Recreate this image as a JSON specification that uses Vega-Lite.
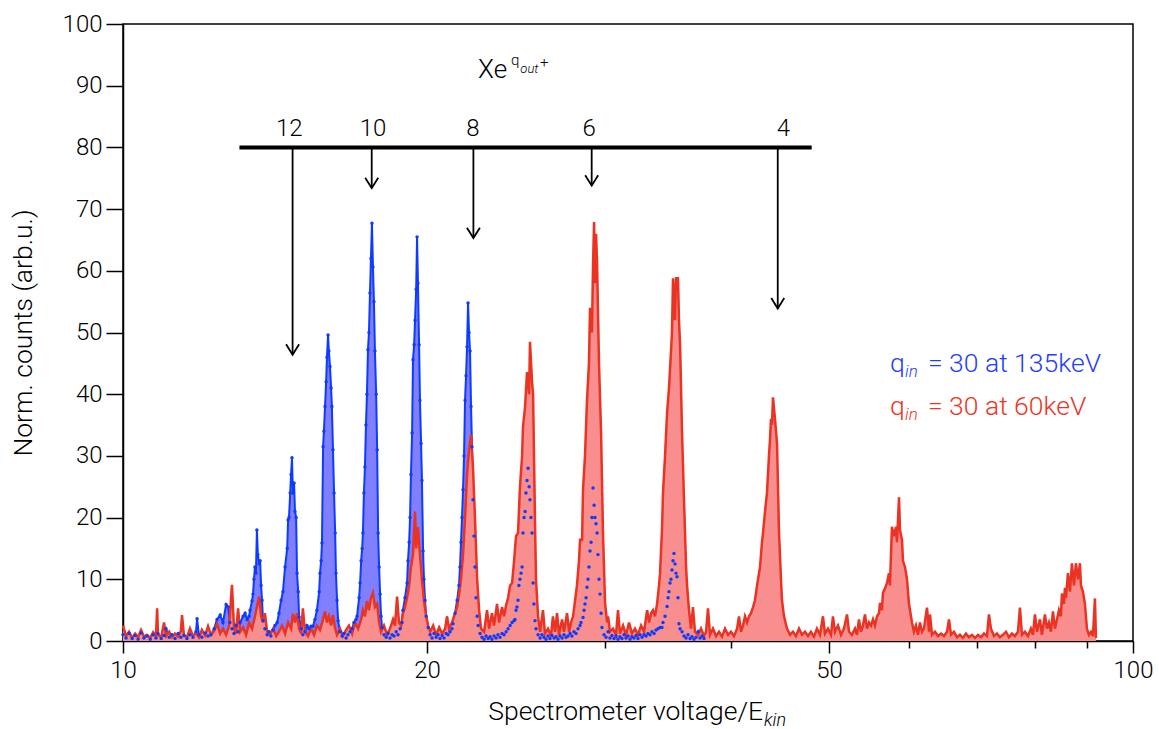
{
"$schema":"https://vega.github.io/schema/vega-lite/v6.json",
"width":1010,"height":617,
"autosize":{"type":"none"},
"padding":{"left":123,"top":24,"right":26,"bottom":88},
"background":"white",
"config":{"view":{"stroke":"black","strokeWidth":1.5},"axis":{"grid":false,"domainColor":"black","domainWidth":1.5,"tickColor":"black","tickWidth":1.5,"labelColor":"black","titleColor":"black","labelFont":"Roboto","labelFontWeight":300,"titleFont":"Roboto","titleFontWeight":300}},
"datasets":{
"red":[{"x":10.00,"y":2.5},{"x":10.07,"y":0.8},{"x":10.14,"y":1.5},{"x":10.21,"y":0.5},{"x":10.28,"y":1.2},{"x":10.35,"y":0.6},{"x":10.42,"y":1.8},{"x":10.49,"y":0.7},{"x":10.56,"y":1.0},{"x":10.64,"y":0.5},{"x":10.71,"y":1.4},{"x":10.78,"y":0.8},{"x":10.81,"y":5.3},{"x":10.83,"y":1.0},{"x":10.91,"y":0.6},{"x":10.98,"y":3.0},{"x":11.03,"y":0.8},{"x":11.11,"y":1.5},{"x":11.18,"y":0.6},{"x":11.26,"y":1.2},{"x":11.34,"y":0.7},{"x":11.41,"y":1.6},{"x":11.44,"y":4.2},{"x":11.49,"y":1.0},{"x":11.57,"y":0.6},{"x":11.65,"y":2.0},{"x":11.73,"y":0.8},{"x":11.81,"y":1.3},{"x":11.89,"y":0.6},{"x":11.97,"y":1.8},{"x":12.06,"y":0.9},{"x":12.14,"y":2.4},{"x":12.22,"y":1.0},{"x":12.31,"y":1.6},{"x":12.39,"y":2.8},{"x":12.48,"y":1.2},{"x":12.56,"y":2.0},{"x":12.65,"y":1.0},{"x":12.74,"y":2.5},{"x":12.82,"y":9.1},{"x":12.88,"y":2.0},{"x":12.94,"y":1.2},{"x":13.00,"y":5.3},{"x":13.06,"y":1.5},{"x":13.15,"y":2.2},{"x":13.24,"y":1.0},{"x":13.33,"y":3.0},{"x":13.42,"y":2.0},{"x":13.51,"y":4.0},{"x":13.57,"y":5.5},{"x":13.64,"y":7.2},{"x":13.70,"y":4.0},{"x":13.76,"y":3.0},{"x":13.82,"y":4.5},{"x":13.89,"y":1.5},{"x":13.98,"y":1.0},{"x":14.08,"y":2.0},{"x":14.18,"y":0.8},{"x":14.27,"y":1.5},{"x":14.37,"y":2.5},{"x":14.47,"y":1.2},{"x":14.57,"y":3.0},{"x":14.67,"y":2.0},{"x":14.73,"y":4.4},{"x":14.80,"y":3.0},{"x":14.87,"y":4.5},{"x":14.94,"y":2.0},{"x":15.01,"y":1.2},{"x":15.07,"y":5.3},{"x":15.14,"y":1.5},{"x":15.25,"y":0.8},{"x":15.35,"y":2.0},{"x":15.46,"y":1.0},{"x":15.56,"y":2.5},{"x":15.67,"y":1.8},{"x":15.78,"y":3.5},{"x":15.85,"y":4.8},{"x":15.92,"y":3.0},{"x":15.99,"y":4.0},{"x":16.07,"y":2.5},{"x":16.14,"y":4.2},{"x":16.22,"y":2.0},{"x":16.29,"y":1.0},{"x":16.40,"y":2.0},{"x":16.51,"y":0.8},{"x":16.63,"y":1.8},{"x":16.74,"y":2.5},{"x":16.86,"y":1.2},{"x":16.97,"y":3.0},{"x":17.09,"y":2.0},{"x":17.21,"y":3.5},{"x":17.28,"y":5.0},{"x":17.36,"y":4.0},{"x":17.44,"y":6.5},{"x":17.52,"y":5.0},{"x":17.60,"y":7.0},{"x":17.68,"y":7.8},{"x":17.76,"y":5.5},{"x":17.85,"y":6.0},{"x":17.93,"y":3.0},{"x":18.01,"y":1.5},{"x":18.13,"y":2.5},{"x":18.26,"y":1.0},{"x":18.38,"y":2.0},{"x":18.51,"y":3.5},{"x":18.59,"y":2.5},{"x":18.68,"y":7.2},{"x":18.76,"y":3.0},{"x":18.85,"y":2.5},{"x":18.93,"y":4.5},{"x":19.02,"y":5.5},{"x":19.11,"y":7.0},{"x":19.20,"y":9.0},{"x":19.28,"y":12.0},{"x":19.37,"y":14.0},{"x":19.46,"y":21.0},{"x":19.51,"y":15.0},{"x":19.59,"y":18.5},{"x":19.68,"y":14.0},{"x":19.77,"y":10.0},{"x":19.86,"y":6.5},{"x":19.96,"y":4.0},{"x":20.05,"y":2.5},{"x":20.14,"y":1.5},{"x":20.28,"y":2.5},{"x":20.42,"y":1.0},{"x":20.56,"y":2.2},{"x":20.70,"y":1.2},{"x":20.84,"y":2.0},{"x":20.93,"y":4.0},{"x":21.03,"y":2.0},{"x":21.17,"y":3.0},{"x":21.32,"y":4.5},{"x":21.42,"y":5.5},{"x":21.51,"y":7.5},{"x":21.61,"y":10.0},{"x":21.71,"y":14.0},{"x":21.81,"y":20.0},{"x":21.91,"y":27.0},{"x":22.01,"y":31.0},{"x":22.11,"y":33.4},{"x":22.21,"y":28.0},{"x":22.31,"y":20.0},{"x":22.42,"y":10.0},{"x":22.52,"y":5.0},{"x":22.62,"y":2.0},{"x":22.78,"y":1.5},{"x":22.93,"y":5.0},{"x":23.04,"y":2.0},{"x":23.19,"y":4.5},{"x":23.30,"y":2.5},{"x":23.46,"y":6.0},{"x":23.57,"y":3.0},{"x":23.73,"y":5.5},{"x":23.84,"y":4.0},{"x":23.95,"y":5.8},{"x":24.06,"y":7.0},{"x":24.17,"y":9.0},{"x":24.28,"y":9.4},{"x":24.39,"y":13.0},{"x":24.50,"y":17.0},{"x":24.61,"y":17.5},{"x":24.72,"y":25.0},{"x":24.84,"y":30.0},{"x":24.89,"y":34.7},{"x":25.01,"y":38.0},{"x":25.12,"y":43.6},{"x":25.24,"y":40.0},{"x":25.29,"y":48.5},{"x":25.41,"y":42.0},{"x":25.47,"y":40.0},{"x":25.58,"y":19.6},{"x":25.64,"y":10.0},{"x":25.76,"y":4.0},{"x":25.88,"y":1.5},{"x":26.05,"y":5.0},{"x":26.17,"y":1.2},{"x":26.35,"y":2.0},{"x":26.53,"y":0.8},{"x":26.65,"y":4.0},{"x":26.78,"y":1.5},{"x":26.90,"y":4.5},{"x":27.02,"y":1.0},{"x":27.21,"y":3.5},{"x":27.33,"y":1.5},{"x":27.52,"y":4.5},{"x":27.65,"y":1.5},{"x":27.77,"y":3.0},{"x":27.90,"y":4.0},{"x":28.03,"y":6.6},{"x":28.15,"y":9.0},{"x":28.28,"y":13.0},{"x":28.35,"y":16.4},{"x":28.48,"y":16.4},{"x":28.54,"y":24.5},{"x":28.67,"y":30.0},{"x":28.80,"y":39.0},{"x":28.93,"y":45.0},{"x":29.00,"y":54.0},{"x":29.13,"y":50.0},{"x":29.20,"y":61.0},{"x":29.27,"y":67.9},{"x":29.33,"y":58.0},{"x":29.40,"y":66.0},{"x":29.47,"y":61.3},{"x":29.53,"y":53.6},{"x":29.60,"y":45.0},{"x":29.74,"y":33.7},{"x":29.87,"y":17.5},{"x":30.01,"y":6.3},{"x":30.15,"y":3.0},{"x":30.22,"y":4.0},{"x":30.35,"y":1.5},{"x":30.56,"y":2.0},{"x":30.77,"y":1.0},{"x":30.91,"y":5.0},{"x":31.05,"y":1.2},{"x":31.27,"y":2.5},{"x":31.48,"y":1.0},{"x":31.70,"y":3.0},{"x":31.91,"y":1.2},{"x":32.13,"y":2.0},{"x":32.35,"y":1.0},{"x":32.58,"y":2.5},{"x":32.80,"y":1.5},{"x":33.03,"y":5.0},{"x":33.18,"y":3.0},{"x":33.33,"y":4.5},{"x":33.48,"y":5.0},{"x":33.63,"y":4.0},{"x":33.79,"y":6.0},{"x":33.94,"y":9.0},{"x":34.02,"y":11.0},{"x":34.17,"y":18.0},{"x":34.25,"y":24.0},{"x":34.41,"y":30.0},{"x":34.57,"y":37.0},{"x":34.72,"y":41.0},{"x":34.80,"y":43.9},{"x":34.96,"y":50.0},{"x":35.04,"y":58.8},{"x":35.20,"y":52.0},{"x":35.28,"y":58.8},{"x":35.44,"y":58.8},{"x":35.52,"y":52.0},{"x":35.61,"y":48.0},{"x":35.77,"y":33.7},{"x":35.93,"y":22.9},{"x":36.10,"y":12.0},{"x":36.18,"y":9.0},{"x":36.34,"y":5.0},{"x":36.51,"y":2.0},{"x":36.67,"y":5.5},{"x":36.84,"y":1.5},{"x":37.10,"y":1.0},{"x":37.35,"y":2.0},{"x":37.61,"y":0.8},{"x":37.78,"y":1.5},{"x":37.95,"y":5.3},{"x":38.12,"y":1.0},{"x":38.38,"y":2.0},{"x":38.65,"y":0.8},{"x":38.92,"y":1.5},{"x":39.18,"y":0.7},{"x":39.45,"y":2.0},{"x":39.72,"y":1.0},{"x":39.99,"y":1.5},{"x":40.27,"y":0.8},{"x":40.55,"y":2.0},{"x":40.73,"y":4.0},{"x":40.92,"y":1.5},{"x":41.10,"y":2.5},{"x":41.29,"y":4.0},{"x":41.48,"y":3.0},{"x":41.67,"y":4.0},{"x":41.86,"y":4.5},{"x":42.05,"y":5.5},{"x":42.24,"y":6.6},{"x":42.44,"y":9.0},{"x":42.63,"y":11.0},{"x":42.73,"y":12.0},{"x":42.92,"y":16.0},{"x":43.02,"y":17.5},{"x":43.22,"y":21.0},{"x":43.41,"y":24.0},{"x":43.61,"y":30.0},{"x":43.71,"y":32.6},{"x":43.81,"y":36.0},{"x":43.91,"y":35.0},{"x":44.01,"y":39.5},{"x":44.21,"y":36.0},{"x":44.42,"y":32.0},{"x":44.62,"y":17.5},{"x":44.82,"y":10.0},{"x":44.92,"y":6.6},{"x":45.13,"y":4.0},{"x":45.44,"y":2.0},{"x":45.75,"y":1.0},{"x":46.06,"y":1.5},{"x":46.38,"y":0.8},{"x":46.70,"y":2.0},{"x":47.02,"y":1.0},{"x":47.34,"y":1.5},{"x":47.67,"y":0.8},{"x":47.99,"y":1.5},{"x":48.32,"y":0.7},{"x":48.65,"y":2.0},{"x":48.99,"y":1.0},{"x":49.32,"y":4.0},{"x":49.55,"y":1.2},{"x":49.89,"y":2.0},{"x":50.23,"y":1.0},{"x":50.46,"y":4.0},{"x":50.69,"y":1.5},{"x":51.04,"y":2.5},{"x":51.39,"y":1.0},{"x":51.74,"y":2.0},{"x":52.10,"y":4.3},{"x":52.34,"y":1.5},{"x":52.69,"y":1.0},{"x":53.06,"y":2.0},{"x":53.30,"y":1.0},{"x":53.54,"y":3.5},{"x":53.79,"y":1.5},{"x":54.03,"y":2.5},{"x":54.28,"y":4.3},{"x":54.53,"y":2.0},{"x":54.78,"y":3.0},{"x":55.03,"y":2.5},{"x":55.28,"y":3.5},{"x":55.53,"y":2.5},{"x":55.79,"y":4.0},{"x":56.04,"y":4.5},{"x":56.17,"y":6.2},{"x":56.42,"y":5.0},{"x":56.55,"y":7.8},{"x":56.81,"y":8.5},{"x":57.07,"y":9.4},{"x":57.33,"y":11.0},{"x":57.46,"y":9.0},{"x":57.72,"y":18.5},{"x":57.99,"y":17.0},{"x":58.26,"y":18.5},{"x":58.39,"y":16.0},{"x":58.66,"y":23.3},{"x":58.79,"y":18.0},{"x":59.06,"y":16.4},{"x":59.19,"y":13.0},{"x":59.46,"y":12.0},{"x":59.74,"y":10.0},{"x":60.01,"y":6.0},{"x":60.28,"y":4.0},{"x":60.42,"y":3.0},{"x":60.69,"y":1.5},{"x":60.97,"y":2.5},{"x":61.25,"y":1.0},{"x":61.53,"y":3.0},{"x":61.81,"y":1.5},{"x":62.09,"y":2.0},{"x":62.52,"y":5.4},{"x":62.81,"y":1.5},{"x":62.95,"y":4.3},{"x":63.24,"y":1.0},{"x":63.67,"y":1.5},{"x":64.11,"y":0.8},{"x":64.55,"y":1.2},{"x":64.99,"y":0.8},{"x":65.44,"y":1.5},{"x":65.74,"y":3.5},{"x":66.04,"y":1.0},{"x":66.49,"y":1.5},{"x":66.95,"y":0.6},{"x":67.40,"y":1.0},{"x":67.86,"y":0.5},{"x":68.33,"y":1.2},{"x":68.80,"y":0.6},{"x":69.27,"y":1.0},{"x":69.75,"y":0.5},{"x":70.23,"y":1.0},{"x":70.71,"y":0.6},{"x":71.19,"y":1.2},{"x":71.68,"y":0.8},{"x":72.01,"y":4.3},{"x":72.34,"y":2.0},{"x":72.83,"y":0.8},{"x":73.34,"y":1.2},{"x":73.84,"y":0.6},{"x":74.34,"y":1.0},{"x":74.86,"y":1.5},{"x":75.37,"y":0.6},{"x":75.88,"y":1.2},{"x":76.41,"y":0.8},{"x":76.93,"y":1.5},{"x":77.28,"y":5.4},{"x":77.63,"y":1.0},{"x":78.17,"y":1.5},{"x":78.71,"y":0.8},{"x":79.24,"y":2.0},{"x":79.60,"y":1.0},{"x":79.97,"y":4.3},{"x":80.34,"y":1.5},{"x":80.89,"y":3.5},{"x":81.25,"y":1.0},{"x":81.81,"y":4.3},{"x":82.19,"y":2.0},{"x":82.56,"y":3.0},{"x":82.94,"y":1.5},{"x":83.32,"y":4.8},{"x":83.70,"y":2.0},{"x":84.08,"y":3.5},{"x":84.47,"y":5.0},{"x":84.85,"y":4.0},{"x":85.04,"y":7.7},{"x":85.43,"y":6.0},{"x":85.63,"y":8.6},{"x":85.83,"y":7.0},{"x":86.22,"y":11.0},{"x":86.61,"y":8.0},{"x":87.00,"y":12.6},{"x":87.40,"y":9.0},{"x":87.80,"y":12.6},{"x":88.21,"y":10.0},{"x":88.61,"y":12.6},{"x":88.81,"y":9.0},{"x":89.21,"y":8.0},{"x":89.62,"y":6.0},{"x":90.03,"y":2.0},{"x":90.45,"y":1.0},{"x":90.86,"y":1.5},{"x":91.27,"y":0.8},{"x":91.69,"y":6.9},{"x":91.90,"y":0.5}],
"blue":[{"x":10.00,"y":1.0},{"x":10.07,"y":0.5},{"x":10.14,"y":1.2},{"x":10.21,"y":0.4},{"x":10.28,"y":0.9},{"x":10.35,"y":0.3},{"x":10.42,"y":1.3},{"x":10.49,"y":0.5},{"x":10.56,"y":0.8},{"x":10.64,"y":0.3},{"x":10.71,"y":1.0},{"x":10.78,"y":0.5},{"x":10.83,"y":1.2},{"x":10.91,"y":0.4},{"x":10.98,"y":0.9},{"x":11.03,"y":2.0},{"x":11.11,"y":0.6},{"x":11.18,"y":1.0},{"x":11.26,"y":0.4},{"x":11.34,"y":1.2},{"x":11.41,"y":0.6},{"x":11.49,"y":0.9},{"x":11.57,"y":0.4},{"x":11.65,"y":1.0},{"x":11.73,"y":0.6},{"x":11.81,"y":1.5},{"x":11.84,"y":3.6},{"x":11.89,"y":1.0},{"x":11.97,"y":0.6},{"x":12.06,"y":1.3},{"x":12.14,"y":0.8},{"x":12.22,"y":1.0},{"x":12.31,"y":2.0},{"x":12.39,"y":3.5},{"x":12.48,"y":4.2},{"x":12.56,"y":3.0},{"x":12.65,"y":5.9},{"x":12.71,"y":5.5},{"x":12.76,"y":3.0},{"x":12.82,"y":2.0},{"x":12.88,"y":1.2},{"x":12.94,"y":2.5},{"x":13.00,"y":1.5},{"x":13.06,"y":3.0},{"x":13.15,"y":4.0},{"x":13.21,"y":4.5},{"x":13.27,"y":3.5},{"x":13.33,"y":4.0},{"x":13.36,"y":5.0},{"x":13.42,"y":6.5},{"x":13.45,"y":7.6},{"x":13.48,"y":10.0},{"x":13.51,"y":12.0},{"x":13.54,"y":11.0},{"x":13.57,"y":18.0},{"x":13.60,"y":14.0},{"x":13.64,"y":12.5},{"x":13.67,"y":13.0},{"x":13.70,"y":9.0},{"x":13.73,"y":6.6},{"x":13.76,"y":3.3},{"x":13.82,"y":2.0},{"x":13.89,"y":1.0},{"x":13.95,"y":1.5},{"x":14.01,"y":0.8},{"x":14.08,"y":1.8},{"x":14.14,"y":2.5},{"x":14.21,"y":3.0},{"x":14.27,"y":4.5},{"x":14.34,"y":6.6},{"x":14.40,"y":8.0},{"x":14.47,"y":12.0},{"x":14.54,"y":15.0},{"x":14.57,"y":19.6},{"x":14.60,"y":20.0},{"x":14.64,"y":24.0},{"x":14.67,"y":27.0},{"x":14.70,"y":29.7},{"x":14.73,"y":24.0},{"x":14.77,"y":25.6},{"x":14.80,"y":21.0},{"x":14.84,"y":20.0},{"x":14.87,"y":11.0},{"x":14.91,"y":8.0},{"x":14.94,"y":3.9},{"x":15.01,"y":2.0},{"x":15.07,"y":1.0},{"x":15.14,"y":1.5},{"x":15.21,"y":2.5},{"x":15.28,"y":2.0},{"x":15.35,"y":2.4},{"x":15.42,"y":2.4},{"x":15.49,"y":3.5},{"x":15.56,"y":5.0},{"x":15.64,"y":8.0},{"x":15.67,"y":11.0},{"x":15.71,"y":13.0},{"x":15.74,"y":15.9},{"x":15.78,"y":31.5},{"x":15.81,"y":34.0},{"x":15.85,"y":38.0},{"x":15.89,"y":42.0},{"x":15.92,"y":46.0},{"x":15.96,"y":49.6},{"x":15.99,"y":47.0},{"x":16.03,"y":44.5},{"x":16.07,"y":41.0},{"x":16.10,"y":38.0},{"x":16.14,"y":31.0},{"x":16.18,"y":24.0},{"x":16.22,"y":17.5},{"x":16.25,"y":11.0},{"x":16.29,"y":6.6},{"x":16.33,"y":3.3},{"x":16.40,"y":1.5},{"x":16.48,"y":0.8},{"x":16.55,"y":1.2},{"x":16.63,"y":0.5},{"x":16.70,"y":1.0},{"x":16.78,"y":1.5},{"x":16.86,"y":2.0},{"x":16.93,"y":3.0},{"x":17.01,"y":3.5},{"x":17.05,"y":4.0},{"x":17.13,"y":7.0},{"x":17.17,"y":9.4},{"x":17.21,"y":13.0},{"x":17.25,"y":15.0},{"x":17.28,"y":17.5},{"x":17.32,"y":24.0},{"x":17.36,"y":28.2},{"x":17.40,"y":35.0},{"x":17.44,"y":40.0},{"x":17.48,"y":47.2},{"x":17.52,"y":50.0},{"x":17.56,"y":56.4},{"x":17.60,"y":62.0},{"x":17.64,"y":67.7},{"x":17.68,"y":60.6},{"x":17.72,"y":55.0},{"x":17.76,"y":47.0},{"x":17.81,"y":40.0},{"x":17.85,"y":31.0},{"x":17.89,"y":17.5},{"x":17.93,"y":12.0},{"x":17.97,"y":7.6},{"x":18.01,"y":4.0},{"x":18.05,"y":2.2},{"x":18.13,"y":1.0},{"x":18.22,"y":0.6},{"x":18.30,"y":1.2},{"x":18.38,"y":0.5},{"x":18.47,"y":1.0},{"x":18.55,"y":0.8},{"x":18.64,"y":1.5},{"x":18.72,"y":1.0},{"x":18.81,"y":2.0},{"x":18.89,"y":3.0},{"x":18.93,"y":5.0},{"x":19.02,"y":7.0},{"x":19.11,"y":9.4},{"x":19.15,"y":13.0},{"x":19.20,"y":16.0},{"x":19.24,"y":20.0},{"x":19.28,"y":27.0},{"x":19.33,"y":33.7},{"x":19.37,"y":45.6},{"x":19.42,"y":48.0},{"x":19.46,"y":52.0},{"x":19.51,"y":57.0},{"x":19.55,"y":65.5},{"x":19.59,"y":58.0},{"x":19.64,"y":48.0},{"x":19.68,"y":39.0},{"x":19.73,"y":32.0},{"x":19.77,"y":26.0},{"x":19.82,"y":14.6},{"x":19.86,"y":10.0},{"x":19.91,"y":6.6},{"x":19.96,"y":4.0},{"x":20.05,"y":2.2},{"x":20.14,"y":1.0},{"x":20.23,"y":0.5},{"x":20.32,"y":1.2},{"x":20.42,"y":0.6},{"x":20.51,"y":1.0},{"x":20.60,"y":0.4},{"x":20.70,"y":0.9},{"x":20.79,"y":0.5},{"x":20.89,"y":1.2},{"x":20.98,"y":1.0},{"x":21.08,"y":1.5},{"x":21.17,"y":2.0},{"x":21.22,"y":2.8},{"x":21.32,"y":4.5},{"x":21.42,"y":6.6},{"x":21.51,"y":9.0},{"x":21.56,"y":12.0},{"x":21.61,"y":16.0},{"x":21.66,"y":20.0},{"x":21.71,"y":24.5},{"x":21.76,"y":30.0},{"x":21.81,"y":39.0},{"x":21.86,"y":43.0},{"x":21.91,"y":47.7},{"x":21.96,"y":54.8},{"x":22.01,"y":50.0},{"x":22.06,"y":47.0},{"x":22.11,"y":38.0},{"x":22.16,"y":31.5},{"x":22.21,"y":22.9},{"x":22.26,"y":17.0},{"x":22.31,"y":12.0},{"x":22.36,"y":7.0},{"x":22.42,"y":4.0},{"x":22.47,"y":2.5},{"x":22.57,"y":1.2},{"x":22.67,"y":0.6},{"x":22.78,"y":0.3},{"x":22.88,"y":0.8},{"x":22.99,"y":0.4},{"x":23.09,"y":0.7},{"x":23.19,"y":0.3},{"x":23.30,"y":0.8},{"x":23.41,"y":0.5},{"x":23.51,"y":1.0},{"x":23.62,"y":0.6},{"x":23.73,"y":1.2},{"x":23.84,"y":1.0},{"x":23.95,"y":1.5},{"x":24.06,"y":2.0},{"x":24.17,"y":2.5},{"x":24.28,"y":3.0},{"x":24.39,"y":3.3},{"x":24.44,"y":3.5},{"x":24.50,"y":5.0},{"x":24.55,"y":5.5},{"x":24.61,"y":6.6},{"x":24.66,"y":9.0},{"x":24.72,"y":10.0},{"x":24.78,"y":11.0},{"x":24.84,"y":12.0},{"x":24.89,"y":17.5},{"x":24.95,"y":20.0},{"x":25.01,"y":21.0},{"x":25.06,"y":24.0},{"x":25.12,"y":26.0},{"x":25.18,"y":28.0},{"x":25.24,"y":25.0},{"x":25.29,"y":22.9},{"x":25.35,"y":20.0},{"x":25.41,"y":17.5},{"x":25.47,"y":9.4},{"x":25.52,"y":6.0},{"x":25.58,"y":3.3},{"x":25.64,"y":2.0},{"x":25.76,"y":1.0},{"x":25.88,"y":0.5},{"x":25.99,"y":1.0},{"x":26.11,"y":0.6},{"x":26.23,"y":0.3},{"x":26.35,"y":0.8},{"x":26.47,"y":0.4},{"x":26.59,"y":0.9},{"x":26.72,"y":0.5},{"x":26.84,"y":0.7},{"x":26.96,"y":0.3},{"x":27.08,"y":0.8},{"x":27.21,"y":0.5},{"x":27.33,"y":1.0},{"x":27.46,"y":0.6},{"x":27.58,"y":0.8},{"x":27.71,"y":1.2},{"x":27.83,"y":0.8},{"x":27.96,"y":1.5},{"x":28.09,"y":1.2},{"x":28.22,"y":2.0},{"x":28.35,"y":2.5},{"x":28.41,"y":3.0},{"x":28.54,"y":3.8},{"x":28.61,"y":5.0},{"x":28.67,"y":6.0},{"x":28.74,"y":7.0},{"x":28.80,"y":8.7},{"x":28.87,"y":10.0},{"x":28.93,"y":12.0},{"x":29.00,"y":14.6},{"x":29.07,"y":16.0},{"x":29.13,"y":20.0},{"x":29.20,"y":24.8},{"x":29.27,"y":22.0},{"x":29.33,"y":20.0},{"x":29.40,"y":19.0},{"x":29.47,"y":17.5},{"x":29.53,"y":14.0},{"x":29.60,"y":10.0},{"x":29.67,"y":7.6},{"x":29.74,"y":4.5},{"x":29.80,"y":2.2},{"x":29.94,"y":1.0},{"x":30.08,"y":0.6},{"x":30.22,"y":1.5},{"x":30.35,"y":0.5},{"x":30.49,"y":0.9},{"x":30.63,"y":0.4},{"x":30.77,"y":0.8},{"x":30.91,"y":0.3},{"x":31.05,"y":0.7},{"x":31.19,"y":0.4},{"x":31.34,"y":1.0},{"x":31.48,"y":0.5},{"x":31.63,"y":0.8},{"x":31.77,"y":0.3},{"x":31.91,"y":0.7},{"x":32.06,"y":0.5},{"x":32.21,"y":0.9},{"x":32.35,"y":0.4},{"x":32.50,"y":1.0},{"x":32.65,"y":0.6},{"x":32.80,"y":1.0},{"x":32.95,"y":0.8},{"x":33.10,"y":1.2},{"x":33.25,"y":1.0},{"x":33.40,"y":1.5},{"x":33.56,"y":1.2},{"x":33.71,"y":1.8},{"x":33.86,"y":2.0},{"x":34.02,"y":2.2},{"x":34.17,"y":2.2},{"x":34.25,"y":3.0},{"x":34.41,"y":4.0},{"x":34.57,"y":5.6},{"x":34.65,"y":7.0},{"x":34.72,"y":8.0},{"x":34.80,"y":9.4},{"x":34.88,"y":10.0},{"x":34.96,"y":11.5},{"x":35.04,"y":13.0},{"x":35.12,"y":14.2},{"x":35.20,"y":12.5},{"x":35.28,"y":11.0},{"x":35.36,"y":10.4},{"x":35.44,"y":7.0},{"x":35.52,"y":2.8},{"x":35.61,"y":2.0},{"x":35.77,"y":1.5},{"x":35.93,"y":0.8},{"x":36.10,"y":0.5},{"x":36.26,"y":1.0},{"x":36.43,"y":0.4},{"x":36.59,"y":0.7},{"x":36.76,"y":0.3},{"x":36.93,"y":0.6},{"x":37.10,"y":1.5},{"x":37.27,"y":0.5},{"x":37.43,"y":0.8},{"x":37.61,"y":0.4}]
},
"layer":[
{"data":{"name":"blue"},"mark":{"type":"area","color":"#7f7fff","opacity":1},
 "encoding":{
  "x":{"field":"x","type":"quantitative","scale":{"type":"log","domain":[10,100]},
   "axis":{"values":[10,20,30,40,50,60,70,80,90,100],"labelExpr":"indexof([10,20,50,100], datum.value) >= 0 ? format(datum.value,'d') : ''","tickSize":{"condition":{"test":"indexof([10,20,50,100], datum.value) >= 0","value":12},"value":7},"labelFontSize":24,"labelPadding":5,"labelOverlap":false,"labelFlush":false,"title":null}},
  "y":{"field":"y","type":"quantitative","scale":{"domain":[0,100]},
   "axis":{"values":[0,5,10,15,20,25,30,35,40,45,50,55,60,65,70,75,80,85,90,95,100],"labelExpr":"datum.value % 10 === 0 ? format(datum.value,'d') : ''","tickSize":{"condition":{"test":"datum.value % 10 === 0","value":17},"value":8},"labelFontSize":24,"labelPadding":4,"labelOverlap":false,"labelFlush":false,"title":"Norm. counts (arb.u.)","titleFontSize":26.5,"titlePadding":25}}}},
{"data":{"name":"blue"},"mark":{"type":"line","color":"#0d3bff","strokeWidth":2},
 "encoding":{"x":{"field":"x","type":"quantitative"},"y":{"field":"y","type":"quantitative"}}},
{"data":{"name":"red"},"mark":{"type":"area","color":"#f98e8e","opacity":1},
 "encoding":{"x":{"field":"x","type":"quantitative"},"y":{"field":"y","type":"quantitative"}}},
{"data":{"name":"red"},"mark":{"type":"line","color":"#ea3323","strokeWidth":2.5},
 "encoding":{"x":{"field":"x","type":"quantitative"},"y":{"field":"y","type":"quantitative"}}},
{"data":{"name":"blue"},"mark":{"type":"circle","color":"#0d3bff","size":12,"opacity":1},
 "encoding":{"x":{"field":"x","type":"quantitative"},"y":{"field":"y","type":"quantitative"}}},
{"data":{"values":[{"x":13.04,"x2":48.07,"y":80}]},"mark":{"type":"rule","color":"black","strokeWidth":4},
 "encoding":{"x":{"field":"x","type":"quantitative"},"x2":{"field":"x2"},"y":{"field":"y","type":"quantitative"}}},
{"data":{"values":[{"x":14.72,"y":80,"y2":46.4},{"x":17.63,"y":80,"y2":73.4},{"x":22.23,"y":80,"y2":65.3},{"x":29.11,"y":80,"y2":73.8},{"x":44.49,"y":80,"y2":53.9}]},"mark":{"type":"rule","color":"black","strokeWidth":1.8},
 "encoding":{"x":{"field":"x","type":"quantitative"},"y":{"field":"y","type":"quantitative"},"y2":{"field":"y2"}}},
{"data":{"values":[{"x":14.72,"y":46.4},{"x":17.63,"y":73.4},{"x":22.23,"y":65.3},{"x":29.11,"y":73.8},{"x":44.49,"y":53.9}]},"mark":{"type":"point","shape":"M-1,-1.6L0,0L1,-1.6","size":169,"filled":false,"stroke":"black","strokeWidth":1.8,"opacity":1},
 "encoding":{"x":{"field":"x","type":"quantitative"},"y":{"field":"y","type":"quantitative"}}},
{"data":{"values":[{"x":14.61,"y":81.9,"t":"12"},{"x":17.68,"y":81.9,"t":"10"},{"x":22.20,"y":81.9,"t":"8"},{"x":28.95,"y":81.9,"t":"6"},{"x":45.06,"y":81.9,"t":"4"}]},"mark":{"type":"text","font":"Roboto","fontWeight":300,"fontSize":24,"align":"center","baseline":"alphabetic","color":"black"},
 "encoding":{"x":{"field":"x","type":"quantitative"},"y":{"field":"y","type":"quantitative"},"text":{"field":"t"}}},
{"data":{"values":[{"x":22.47,"y":91.2,"t":"Xe"}]},"mark":{"type":"text","font":"Roboto","fontWeight":300,"fontSize":26,"align":"left","baseline":"alphabetic","color":"black"},
 "encoding":{"x":{"field":"x","type":"quantitative"},"y":{"field":"y","type":"quantitative"},"text":{"field":"t"}}},
{"data":{"values":[{"x":24.22,"y":93.3,"t":"q"},{"x":25.88,"y":93.0,"t":"+"}]},"mark":{"type":"text","font":"Roboto","fontWeight":300,"fontSize":15,"align":"left","baseline":"alphabetic","color":"black"},
 "encoding":{"x":{"field":"x","type":"quantitative"},"y":{"field":"y","type":"quantitative"},"text":{"field":"t"}}},
{"data":{"values":[{"x":24.74,"y":92.1,"t":"out"}]},"mark":{"type":"text","font":"Roboto","fontWeight":300,"fontStyle":"italic","fontSize":13,"align":"left","baseline":"alphabetic","color":"black"},
 "encoding":{"x":{"field":"x","type":"quantitative"},"y":{"field":"y","type":"quantitative"},"text":{"field":"t"}}},
{"data":{"values":[{"x":57.46,"y":43.6,"t":"q","c":"b"},{"x":62.66,"y":43.6,"t":"= 30 at 135keV","c":"b"},{"x":57.46,"y":36.6,"t":"q","c":"r"},{"x":62.66,"y":36.6,"t":"= 30 at 60keV","c":"r"}]},"mark":{"type":"text","font":"Roboto","fontWeight":300,"fontSize":26.5,"align":"left","baseline":"alphabetic"},
 "encoding":{"x":{"field":"x","type":"quantitative"},"y":{"field":"y","type":"quantitative"},"text":{"field":"t"},"color":{"field":"c","type":"nominal","scale":{"domain":["b","r"],"range":["#1f3cff","#f0331f"]},"legend":null}}},
{"data":{"values":[{"x":59.46,"y":42.8,"t":"in","c":"b"},{"x":59.46,"y":35.8,"t":"in","c":"r"}]},"mark":{"type":"text","font":"Roboto","fontWeight":300,"fontStyle":"italic","fontSize":17,"align":"left","baseline":"alphabetic"},
 "encoding":{"x":{"field":"x","type":"quantitative"},"y":{"field":"y","type":"quantitative"},"text":{"field":"t"},"color":{"field":"c","type":"nominal","scale":{"domain":["b","r"],"range":["#1f3cff","#f0331f"]},"legend":null}}},
{"data":{"values":[{"x":43.02,"y":-12.8,"t":"Spectrometer voltage/E"}]},"mark":{"type":"text","font":"Roboto","fontWeight":300,"fontSize":26.5,"align":"right","baseline":"alphabetic","color":"black"},
 "encoding":{"x":{"field":"x","type":"quantitative"},"y":{"field":"y","type":"quantitative"},"text":{"field":"t"}}},
{"data":{"values":[{"x":43.02,"y":-13.7,"t":"kin"}]},"mark":{"type":"text","font":"Roboto","fontWeight":300,"fontStyle":"italic","fontSize":18,"align":"left","baseline":"alphabetic","dx":1,"color":"black"},
 "encoding":{"x":{"field":"x","type":"quantitative"},"y":{"field":"y","type":"quantitative"},"text":{"field":"t"}}}
]
}
